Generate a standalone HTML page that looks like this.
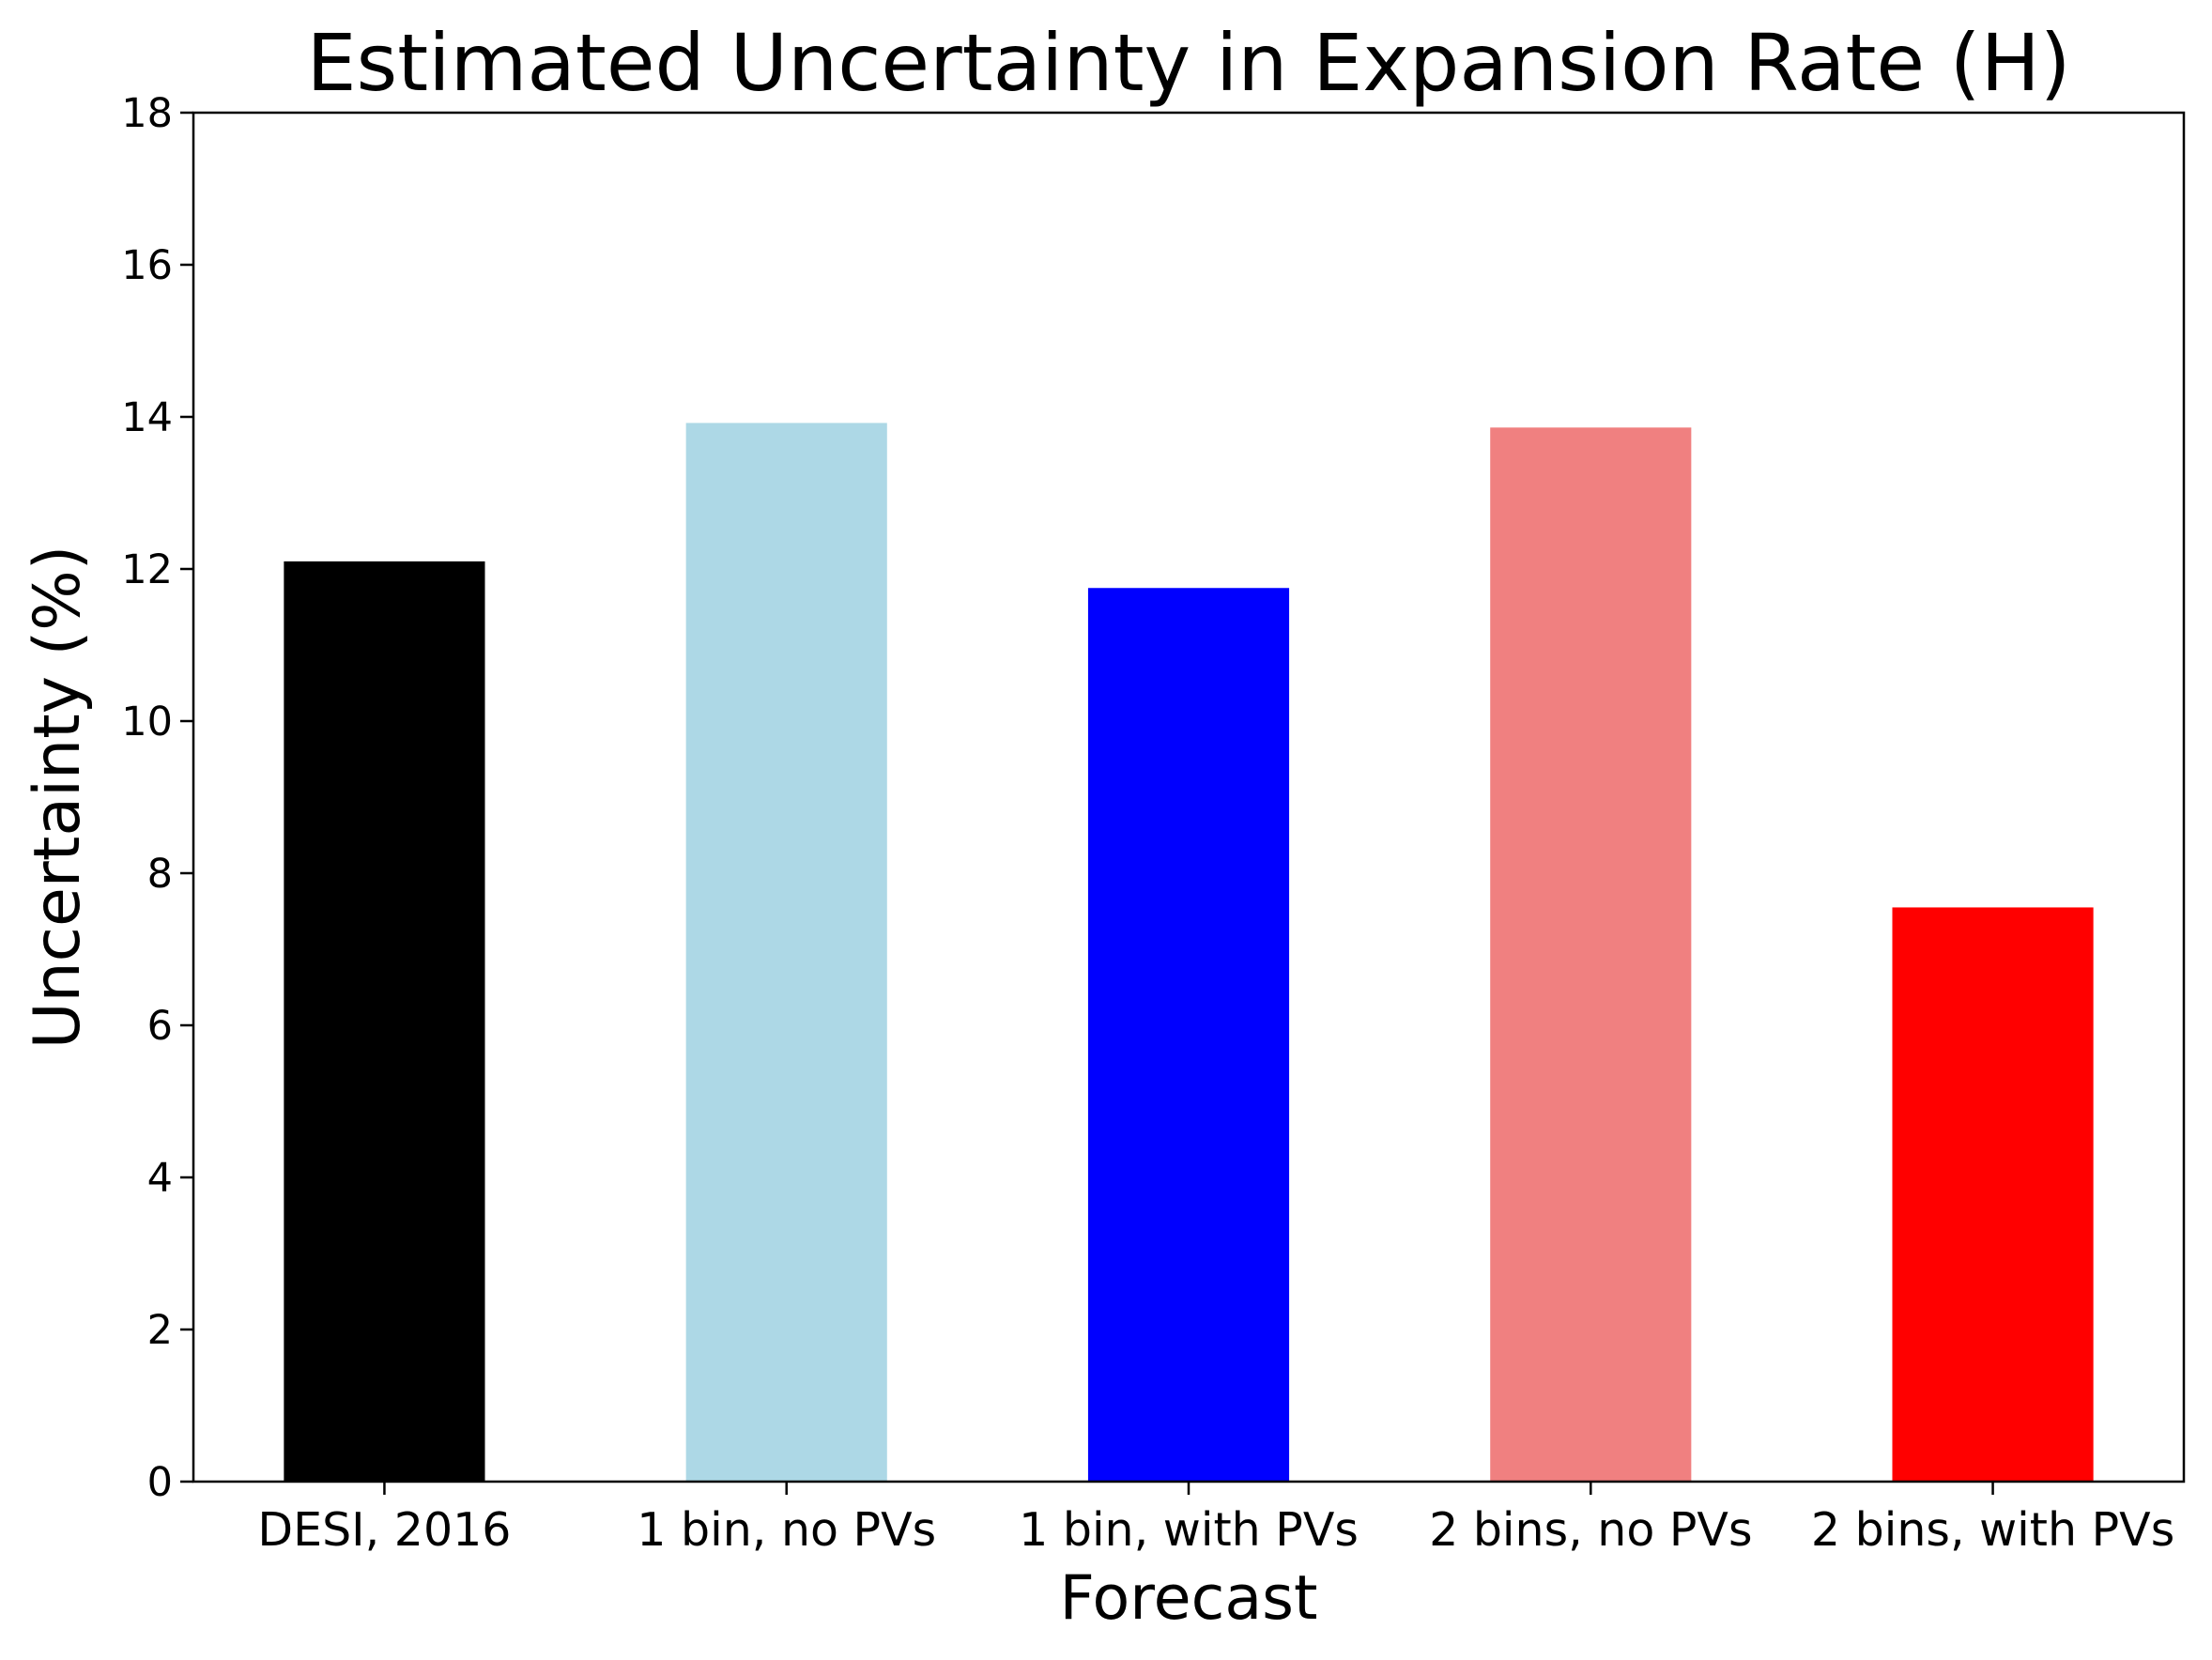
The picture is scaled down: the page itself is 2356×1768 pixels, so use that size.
<!DOCTYPE html>
<html><head><meta charset="utf-8"><style>
body{margin:0;background:#fff}
svg{display:block;font-family:"DejaVu Sans","Liberation Sans",sans-serif}
</style></head><body>
<svg id="chart" width="2356" height="1768" viewBox="0 0 2356 1768" xmlns="http://www.w3.org/2000/svg">
<rect width="2356" height="1768" fill="#fff"/>
<text x="1266" y="96" font-size="84" text-anchor="middle">Estimated Uncertainty in Expansion Rate (H)</text>
<text x="1266" y="1724" font-size="65" text-anchor="middle">Forecast</text>
<text transform="translate(84,849) rotate(-90)" font-size="68" text-anchor="middle">Uncertainty (%)</text>
<g id="bars"></g>
<g id="axes"></g>
</svg>
<script>
const categories=["DESI, 2016","1 bin, no PVs","1 bin, with PVs","2 bins, no PVs","2 bins, with PVs"];
const values=[12.1,13.92,11.75,13.86,7.55];
const colors=["#000000","#add8e6","#0000ff","#f08080","#ff0000"];
const yTicks=[0,2,4,6,8,10,12,14,16,18];
const L=206,R=2326,T=120,B=1578;
const xMin=-0.475,xMax=4.475,yMax=18;
const xs=v=>L+(v-xMin)/(xMax-xMin)*(R-L);
const ys=v=>B-v/yMax*(B-T);
const NS="http://www.w3.org/2000/svg";
function mk(tag,attrs,parent){const e=document.createElementNS(NS,tag);for(const k in attrs)e.setAttribute(k,attrs[k]);parent.appendChild(e);return e;}
const bars=document.getElementById('bars'),axes=document.getElementById('axes');
values.forEach((v,i)=>{
 const r=mk('rect',{x:xs(i-0.25),y:ys(v),width:xs(i+0.25)-xs(i-0.25),height:ys(0)-ys(v),fill:colors[i]},bars);
 
 
});
const f=mk('rect',{x:L,y:T,width:R-L,height:B-T,fill:'none',stroke:'#000','stroke-width':2.5},axes);


yTicks.forEach(t=>{
 const y=ys(t);
 const tk=mk('line',{x1:L-14,x2:L,y1:y,y2:y,stroke:'#000','stroke-width':2.5},axes);
 
 
 const tx=mk('text',{x:L-22,y:y+15,'font-size':43,'text-anchor':'end'},axes);
 tx.textContent=t;
 
 
});
categories.forEach((c,i)=>{
 const x=xs(i);
 const tk=mk('line',{x1:x,x2:x,y1:B,y2:B+14,stroke:'#000','stroke-width':2.5},axes);
 
 
 const tx=mk('text',{x:x,y:B+68,'font-size':49,'text-anchor':'middle'},axes);
 tx.textContent=c;
 
 
});
</script>
</body></html>
